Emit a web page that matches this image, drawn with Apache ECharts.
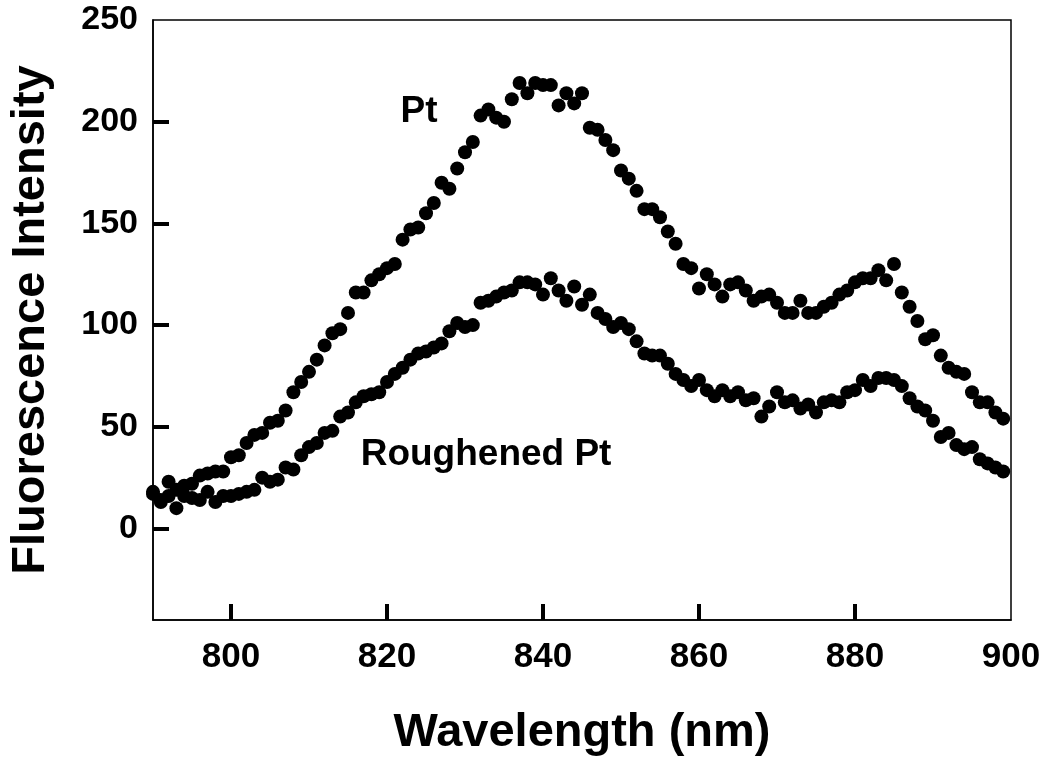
<!DOCTYPE html>
<html>
<head>
<meta charset="utf-8">
<script src="https://cdn.jsdelivr.net/npm/echarts@6/dist/echarts.min.js"></script>
<style>
html,body{margin:0;padding:0;background:#fff;}
#chart{width:1050px;height:766px;}
</style>
</head>
<body>
<div id="chart"></div>
<script>
// Wavelength (nm) for each reading
const wavelengths = [790,791,792,793,794,795,796,797,798,799,800,801,802,803,804,805,806,807,808,809,810,811,812,813,814,815,816,817,818,819,820,821,822,823,824,825,826,827,828,829,830,831,832,833,834,835,836,837,838,839,840,841,842,843,844,845,846,847,848,849,850,851,852,853,854,855,856,857,858,859,860,861,862,863,864,865,866,867,868,869,870,871,872,873,874,875,876,877,878,879,880,881,882,883,884,885,886,887,888,889,890,891,892,893,894,895,896,897,898,899];

// Pt fluorescence intensity
const ptValues = [18,14,23,19,21,22,26,27,28,28,35,36,42,46,47,52,53,58,67,72,77,83,90,96,98,106,116,116,122,125,128,130,142,147,148,155,160,170,167,177,185,190,203,206,202,200,211,219,214,219,218,218,208,214,209,214,197,196,191,186,176,172,166,157,157,153,146,140,130,128,118,125,120,114,120,121,117,112,114,115,111,106,106,112,106,106,109,111,115,117,121,123,123,127,122,130,116,109,102,93,95,85,79,77,76,67,62,62,57,54];

// Roughened Pt fluorescence intensity
const roughValues = [17,13,16,10,16,15,14,18,13,16,16,17,18,19,25,23,24,30,29,36,40,42,47,48,55,57,62,65,66,67,72,76,79,83,86,87,89,91,97,101,99,100,111,112,114,116,117,121,121,120,115,123,117,112,119,110,115,106,103,99,101,98,92,86,85,85,81,76,73,70,73,68,65,68,65,67,63,64,55,60,67,62,63,59,61,57,62,63,62,67,68,73,70,74,74,73,70,64,60,58,53,45,47,41,39,40,34,32,30,28];

const xTicks = [800,820,840,860,880,900];
const yTicks = [0,50,100,150,200,250];

// Curve labels: [text, wavelength, intensity]
const curveLabels = [
  ['Pt', 824.1, 205],
  ['Roughened Pt', 832.7, 36]
];

const FONT = '"Liberation Sans", Arial, sans-serif';

const chart = echarts.init(document.getElementById('chart'), null, {renderer:'canvas'});

function pairs(xs, ys){ return xs.map((x,i)=>[x, ys[i]]); }

const option = {
  backgroundColor:'#fff',
  animation:false,
  grid:{left:153, right:39, top:20, bottom:146, show:true, borderColor:'#000', borderWidth:1.5, backgroundColor:'transparent'},
  xAxis:{
    type:'value', min:790, max:900,
    name:'Wavelength (nm)', nameLocation:'middle', nameGap:90,
    nameTextStyle:{fontFamily:FONT, fontWeight:'bold', fontSize:47, color:'#000'},
    axisLine:{show:true, onZero:false, lineStyle:{color:'#000', width:1.5}},
    axisTick:{show:true, inside:true, length:16, lineStyle:{color:'#000', width:4}, customValues:xTicks.slice(0,5)},
    axisLabel:{show:true, margin:20, fontFamily:FONT, fontWeight:'bold', fontSize:35, color:'#000', customValues:xTicks},
    splitLine:{show:false}
  },
  yAxis:{
    type:'value', min:-45, max:250,
    name:'Fluorescence Intensity', nameLocation:'middle', nameGap:98,
    nameTextStyle:{fontFamily:FONT, fontWeight:'bold', fontSize:47, color:'#000'},
    axisLine:{show:true, onZero:false, lineStyle:{color:'#000', width:1.5}},
    axisTick:{show:true, inside:true, length:16, lineStyle:{color:'#000', width:4}, customValues:yTicks.slice(0,5)},
    axisLabel:{show:true, margin:15, fontFamily:FONT, fontWeight:'bold', fontSize:34, color:'#000', customValues:yTicks},
    splitLine:{show:false}
  },
  series:[
    {
      name:'Pt', type:'scatter', symbol:'circle', symbolSize:14,
      itemStyle:{color:'#000', opacity:1},
      data:pairs(wavelengths, ptValues),
      markPoint:{
        symbol:'circle', symbolSize:0,
        label:{show:true, position:'inside', fontFamily:FONT, fontWeight:'bold', fontSize:37, color:'#000', formatter:p=>p.name},
        data:curveLabels.map(c=>({name:c[0], coord:[c[1], c[2]]}))
      }
    },
    {
      name:'Roughened Pt', type:'scatter', symbol:'circle', symbolSize:14,
      itemStyle:{color:'#000', opacity:1},
      data:pairs(wavelengths, roughValues)
    }
  ]
};
chart.setOption(option);
</script>
</body>
</html>
